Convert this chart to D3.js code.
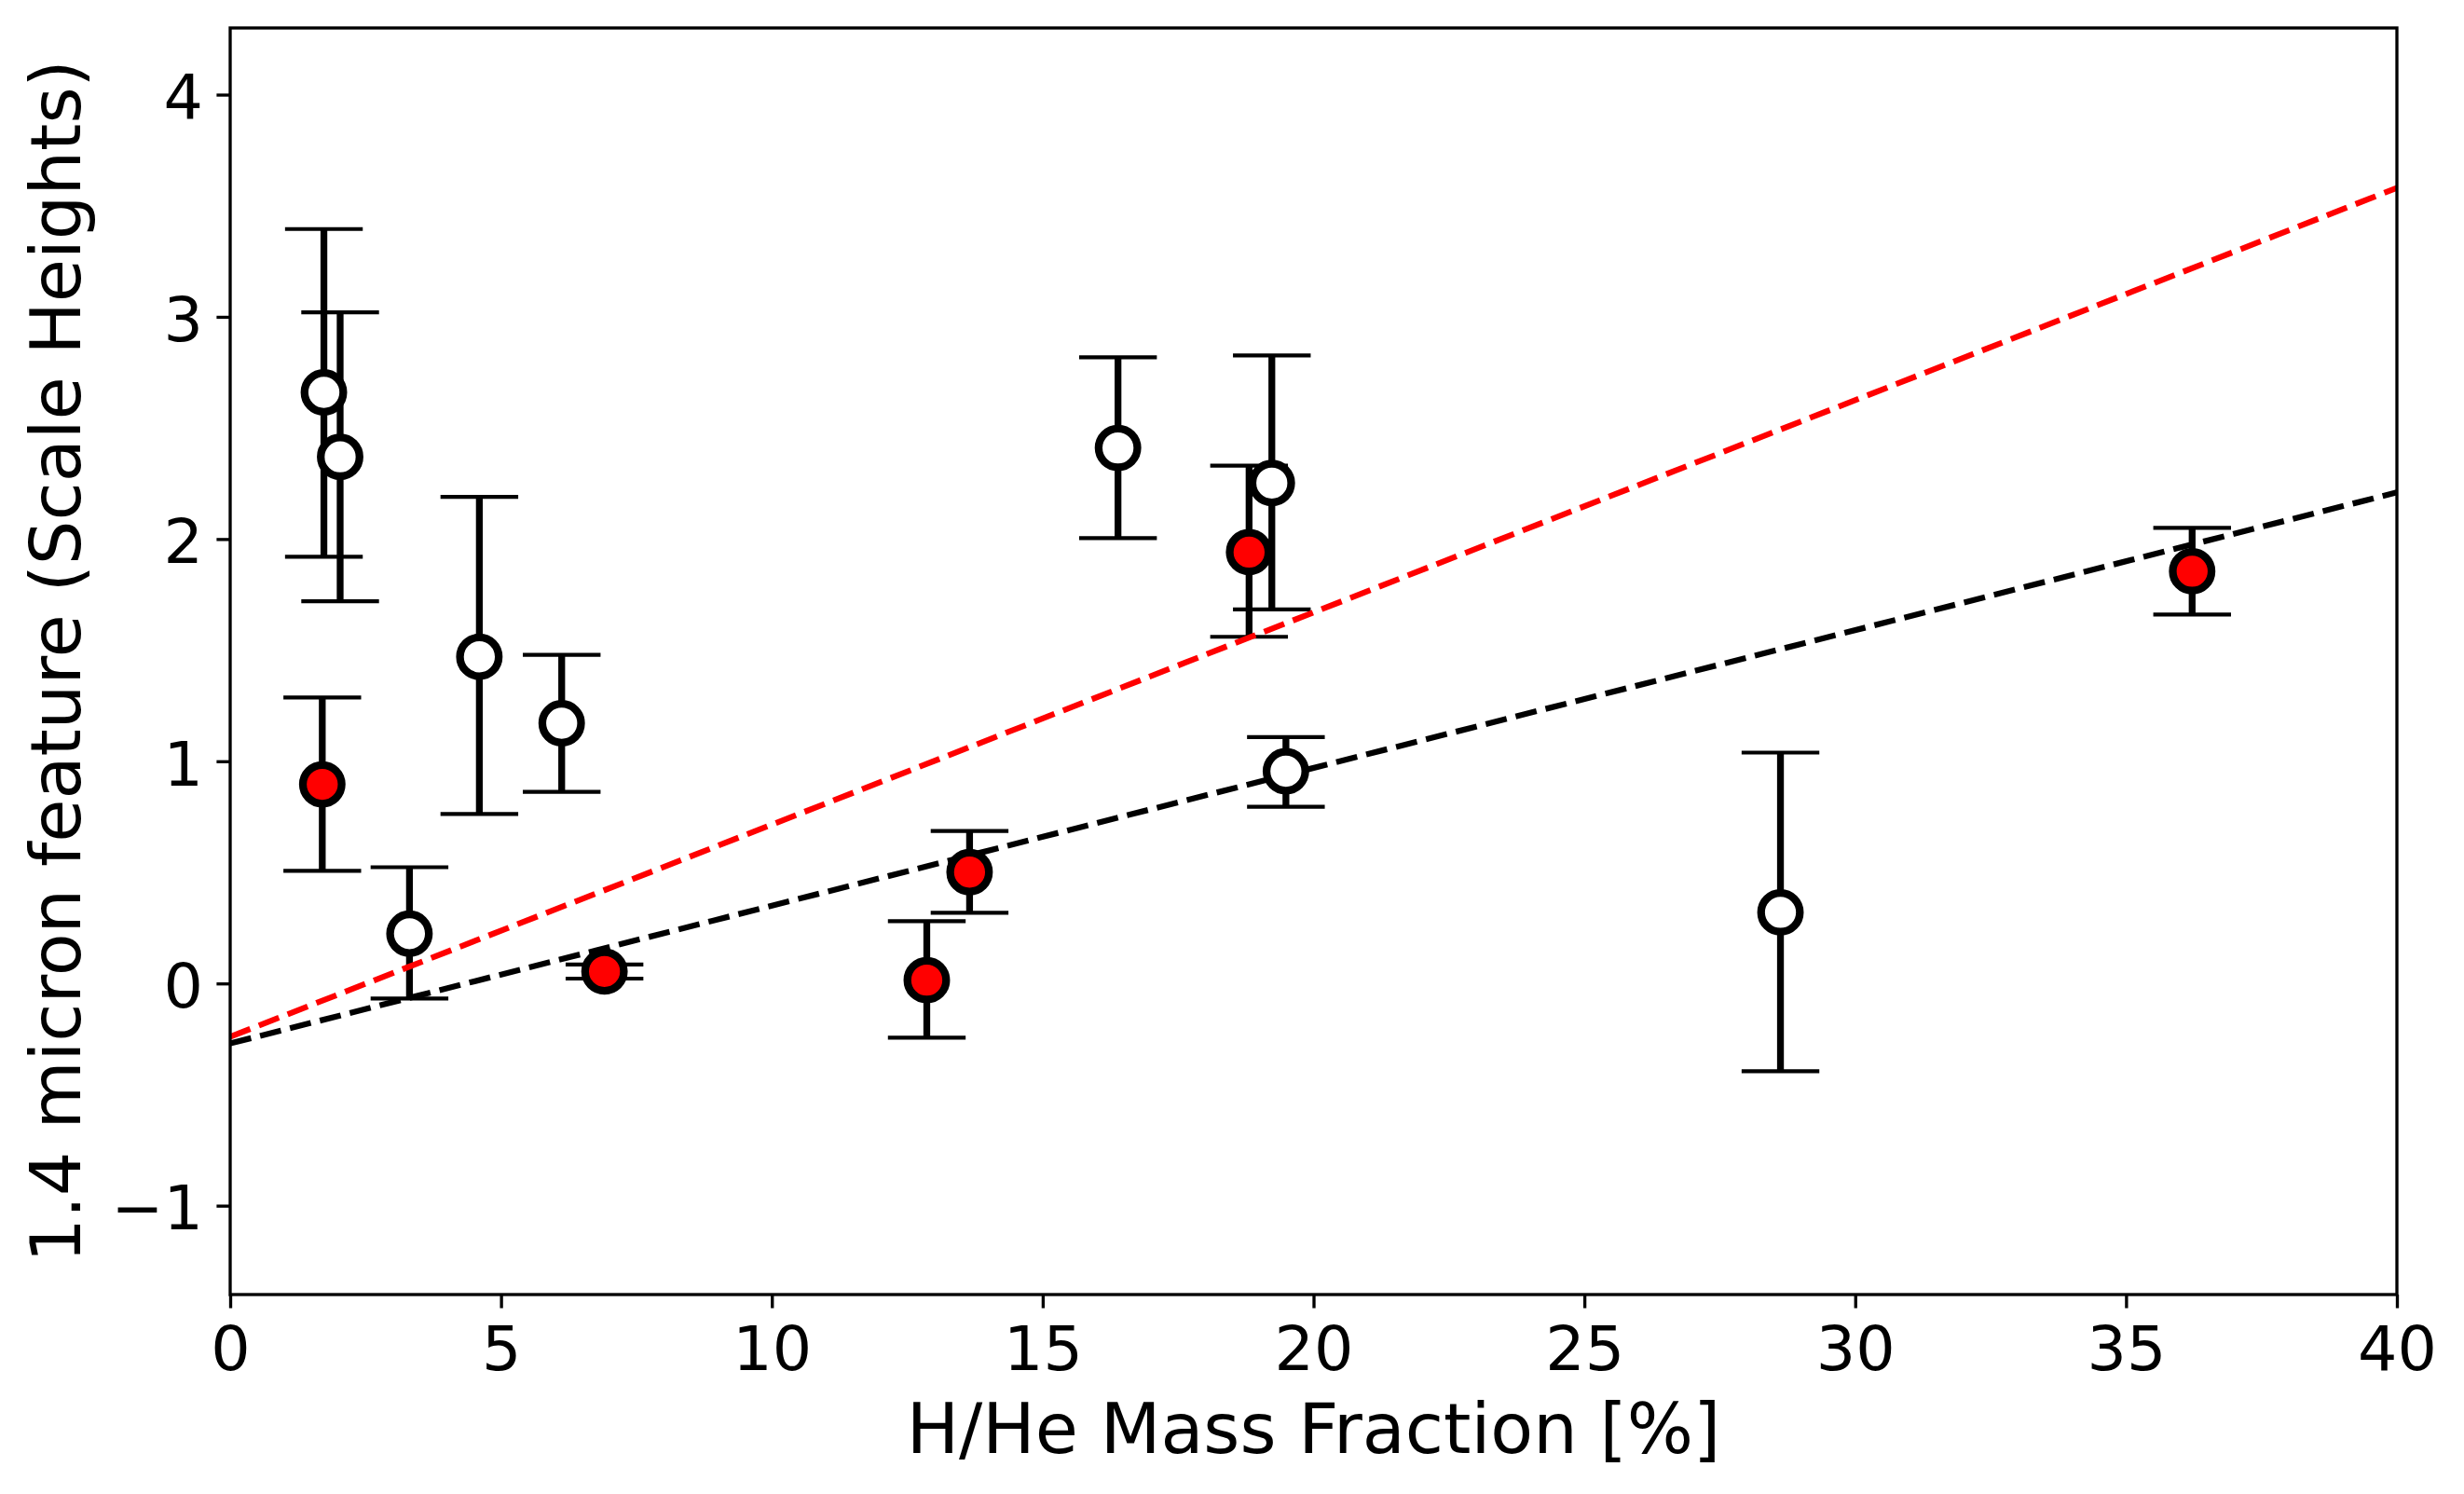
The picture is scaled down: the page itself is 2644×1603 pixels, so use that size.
<!DOCTYPE html>
<html>
<head>
<meta charset="utf-8">
<script src="https://cdn.jsdelivr.net/npm/d3@7"></script>
<style>
  body { margin: 0; background: #fff; }
  text { font-family: "DejaVu Sans", sans-serif; fill: #000; }
</style>
</head>
<body>
<div id="chart"></div>
<script>
// open (white) points
var openX  = [1.73, 2.03, 3.31, 4.60, 6.12, 16.39, 19.23, 19.49, 28.62];
var openY  = [2.66, 2.37, 0.224, 1.47, 1.171, 2.41, 2.252, 0.955, 0.32];
var openHi = [3.395, 3.02, 0.523, 2.19, 1.479, 2.818, 2.826, 1.109, 1.039];
var openLo = [1.92, 1.72, -0.068, 0.763, 0.862, 2.004, 1.683, 0.795, -0.395];

// filled (red) points
var redX  = [1.70, 6.91, 12.86, 13.65, 18.81, 36.22];
var redY  = [0.896, 0.054, 0.015, 0.501, 1.941, 1.855];
var redHi = [1.287, 0.085, 0.28, 0.686, 2.33, 2.05];
var redLo = [0.507, 0.022, -0.244, 0.318, 1.56, 1.66];

// fit lines (endpoints at x = 0 and x = 40)
var fitX      = [0, 40];
var redFitY   = [-0.24, 3.58];
var blackFitY = [-0.27, 2.21];

var xTicks = [0, 5, 10, 15, 20, 25, 30, 35, 40];
var yTicks = [-1, 0, 1, 2, 3, 4];

var width = 2644, height = 1603;
var mLeft = 247, mRight = 2572, mTop = 30, mBottom = 1389;

var svg = d3.select("#chart").append("svg")
    .attr("width", width)
    .attr("height", height);

svg.append("rect").attr("width", width).attr("height", height).attr("fill", "#fff");

var x = d3.scaleLinear().domain([0, 40]).range([mLeft, mRight]);
var y = d3.scaleLinear().domain([-1.4, 4.3]).range([mBottom, mTop]);

function zip(xs, ys, his, los, fill) {
    return xs.map(function(d, i) {
        return {x: d, y: ys[i], hi: his[i], lo: los[i], fill: fill};
    });
}
var points = zip(openX, openY, openHi, openLo, "#fff")
    .concat(zip(redX, redY, redHi, redLo, "#ff0000"));

var plot = svg.append("g");

// error bars
var capW = 41.7;
var eb = plot.selectAll(".eb").data(points).enter().append("g").attr("class", "eb");
eb.append("line")
    .attr("x1", function(d) { return x(d.x); })
    .attr("x2", function(d) { return x(d.x); })
    .attr("y1", function(d) { return y(d.lo); })
    .attr("y2", function(d) { return y(d.hi); })
    .attr("stroke", "#000")
    .attr("stroke-width", 7.3);
eb.selectAll(".cap")
    .data(function(d) { return [{x: d.x, v: d.hi}, {x: d.x, v: d.lo}]; })
    .enter().append("line")
    .attr("x1", function(d) { return x(d.x) - capW; })
    .attr("x2", function(d) { return x(d.x) + capW; })
    .attr("y1", function(d) { return y(d.v); })
    .attr("y2", function(d) { return y(d.v); })
    .attr("stroke", "#000")
    .attr("stroke-width", 4.17);

// dashed fits
var line = d3.line().x(function(d) { return x(d[0]); }).y(function(d) { return y(d[1]); });
plot.append("path")
    .attr("d", line(fitX.map(function(d, i) { return [d, redFitY[i]]; })))
    .attr("fill", "none")
    .attr("stroke", "#ff0000")
    .attr("stroke-width", 6.25)
    .attr("stroke-dasharray", "23.1,10");
plot.append("path")
    .attr("d", line(fitX.map(function(d, i) { return [d, blackFitY[i]]; })))
    .attr("fill", "none")
    .attr("stroke", "#000")
    .attr("stroke-width", 6.25)
    .attr("stroke-dasharray", "23.1,10");

// markers
plot.selectAll(".pt").data(points).enter().append("circle")
    .attr("class", "pt")
    .attr("cx", function(d) { return x(d.x); })
    .attr("cy", function(d) { return y(d.y); })
    .attr("r", 20.8)
    .attr("fill", function(d) { return d.fill; })
    .attr("stroke", "#000")
    .attr("stroke-width", 8.3);

// axes
var xAxis = svg.append("g")
    .attr("transform", "translate(0," + mBottom + ")")
    .call(d3.axisBottom(x).tickValues(xTicks).tickFormat(d3.format("d"))
        .tickSize(14.6).tickSizeOuter(0).tickPadding(19));
var yAxis = svg.append("g")
    .attr("transform", "translate(" + mLeft + ",0)")
    .call(d3.axisLeft(y).tickValues(yTicks).tickFormat(d3.format("d"))
        .tickSize(14.6).tickSizeOuter(0).tickPadding(14.6));

[xAxis, yAxis].forEach(function(a) {
    a.selectAll(".domain").remove();
    a.selectAll(".tick line").attr("stroke", "#000").attr("stroke-width", 3.33);
    a.selectAll(".tick text")
        .style("font-family", "'DejaVu Sans', sans-serif")
        .style("font-size", "66.7px")
        .attr("fill", "#000");
});
yAxis.selectAll(".tick text").attr("dy", "0.38em");

// frame
svg.append("rect")
    .attr("x", mLeft).attr("y", mTop)
    .attr("width", mRight - mLeft).attr("height", mBottom - mTop)
    .attr("fill", "none")
    .attr("stroke", "#000")
    .attr("stroke-width", 3.33);

// labels
svg.append("text")
    .attr("x", (mLeft + mRight) / 2)
    .attr("y", 1559)
    .attr("text-anchor", "middle")
    .style("font-size", "75px")
    .text("H/He Mass Fraction [%]");

svg.append("text")
    .attr("transform", "translate(86," + (mTop + mBottom) / 2 + ") rotate(-90)")
    .attr("text-anchor", "middle")
    .style("font-size", "75px")
    .text("1.4 micron feature (Scale Heights)");
</script>
</body>
</html>
